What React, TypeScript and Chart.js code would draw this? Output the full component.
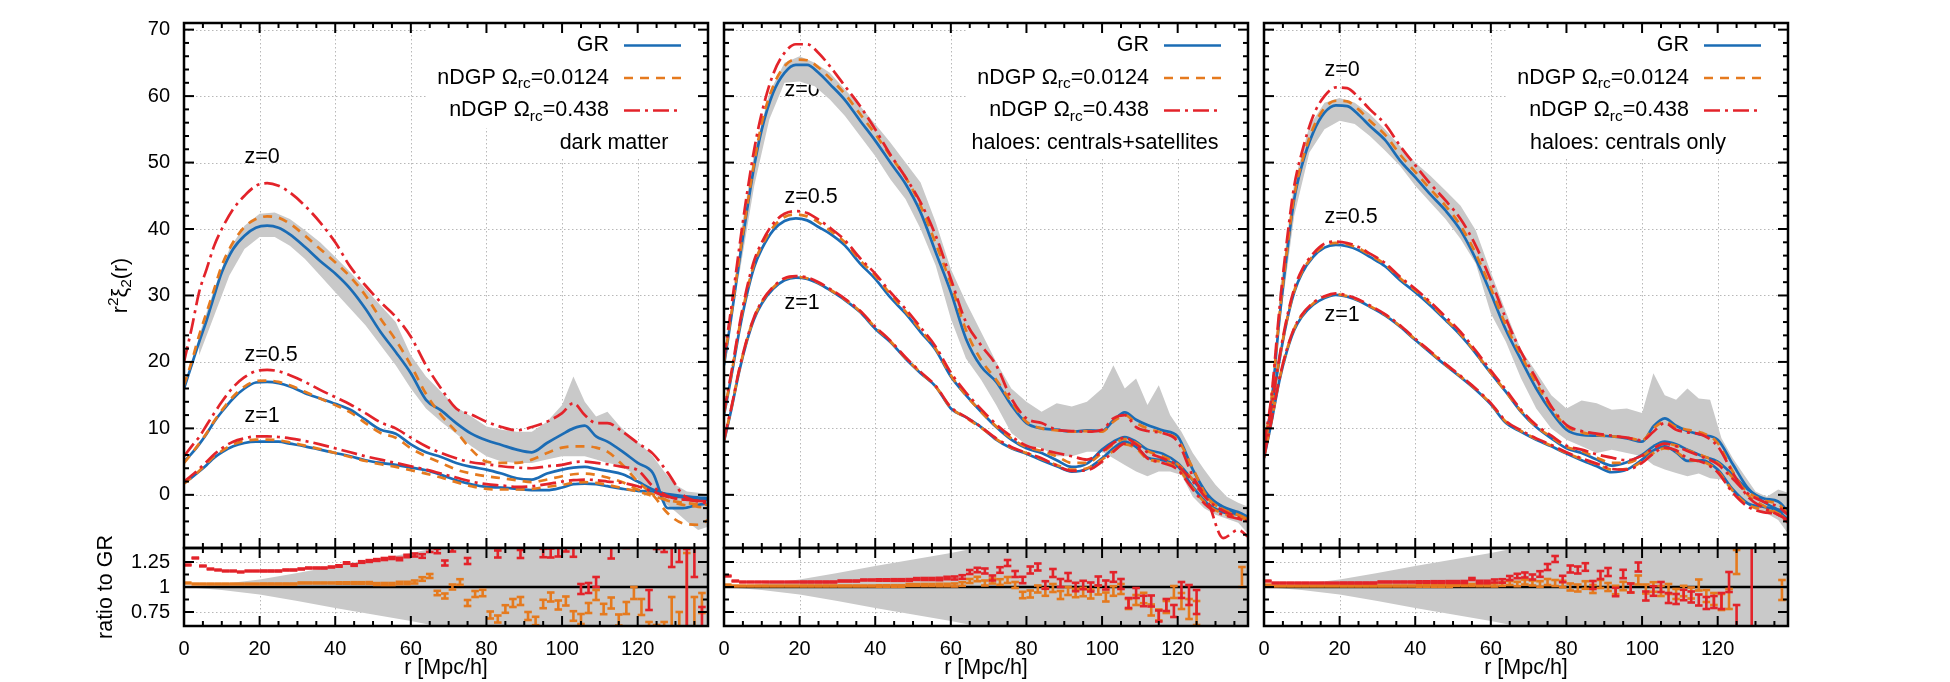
import { useEffect, useRef } from 'react';
import { Chart, registerables } from 'chart.js';

Chart.register(...registerables);

// separation grid of the correlation multipoles, r in Mpc/h
const R = [0, 2, 4, 6, 8, 10, 13, 16, 19, 22, 25, 28, 32, 36, 40, 44, 48, 52, 56, 60, 64, 68, 72, 76, 80, 84, 88, 92, 96, 100, 103, 106, 109, 112, 116, 120, 124, 128, 132, 136, 138.6];

// dark matter: r^2 xi_2 for GR, nDGP(0.0124), nDGP(0.438) at z = 0, 0.5, 1
const DM_Z0_GR = [16, 19.5, 23, 26.3, 30, 33.5, 37, 39, 40.2, 40.5, 40.2, 39.2, 37.3, 35.2, 33.3, 31, 28, 24.5, 21.5, 18.3, 14.3, 12.7, 10.8, 9.2, 8.2, 7.5, 6.8, 6.4, 7.8, 9.1, 10, 10.4, 8.8, 8, 6.5, 4.8, 3.3, -2, -2, -1.5, -1.3];
const DM_Z0_N1 = [16.5, 20, 24, 27.5, 31, 34.5, 38, 40.3, 41.5, 41.9, 41.7, 40.8, 39, 37, 35, 32.8, 30, 26.5, 23.3, 19.5, 15.2, 12, 9.5, 6.8, 5, 4.8, 4.8, 5.3, 6.3, 7.1, 7.3, 7.3, 7.1, 6.5, 4.5, 2, 0, -2.8, -4.3, -4.5, -3.8];
const DM_Z0_N2 = [20, 25, 30.5, 34, 37.5, 40, 43, 45, 46.5, 46.9, 46.5, 45.5, 43.5, 41, 38, 34.3, 31.5, 29, 26.8, 23.8, 19.5, 16, 13, 12.1, 11, 10.2, 9.7, 10.2, 11, 12.3, 13.8, 12, 10.8, 10.8, 9.5, 7.8, 6.2, 3.3, 0, -1, -1.3];
const DM_Z05_GR = [5, 6.2, 7.6, 9.2, 11, 12.5, 14.5, 16, 16.9, 17, 16.8, 16.3, 15.3, 14.5, 13.7, 12.8, 11.3, 9.8, 9.2, 7.6, 6.4, 5.7, 4.8, 4.2, 3.8, 3.2, 2.5, 2.3, 3.2, 3.8, 4.1, 4.2, 3.9, 3.6, 3.1, 2, 0.8, 0, -0.4, -0.7, -0.8];
const DM_Z05_N1 = [4.8, 6.2, 7.7, 9.3, 11.1, 12.7, 14.8, 16.3, 17.1, 17.2, 17, 16.5, 15.5, 14.5, 13.5, 12.4, 10.8, 9.3, 8.6, 7, 5.8, 4.8, 3.8, 3.2, 2.8, 2.5, 2.2, 1.9, 2.3, 2.8, 3.1, 3.2, 3, 2.6, 1.9, 0.8, 0.1, -0.9, -1.5, -1.8, -2];
const DM_Z05_N2 = [5.8, 7.3, 8.7, 10.5, 12.3, 14, 16.2, 17.7, 18.6, 18.8, 18.6, 18, 17, 15.8, 14.7, 13.6, 12.3, 10.9, 10, 8.6, 7.3, 6.3, 5.5, 4.9, 4.6, 4.3, 4.1, 4, 4.3, 4.5, 4.9, 5, 4.8, 4.6, 4.2, 3.7, 1.3, -0.2, -0.7, -0.9, -1];
const DM_Z1_GR = [1.8, 2.6, 3.5, 4.5, 5.6, 6.4, 7.3, 7.8, 8, 8, 8, 7.7, 7.3, 6.8, 6.3, 5.8, 5.2, 4.8, 4.5, 4.1, 3.7, 3, 2.2, 1.6, 1.2, 1.1, 0.9, 0.7, 0.7, 1.1, 1.6, 1.7, 1.6, 1.3, 0.9, 0.6, 0.5, 0.1, -0.2, -0.4, -0.5];
const DM_Z1_N1 = [1.7, 2.6, 3.6, 4.7, 5.8, 6.6, 7.6, 8.1, 8.3, 8.3, 8.2, 7.9, 7.4, 6.9, 6.3, 5.7, 5.1, 4.6, 4.2, 3.7, 3.2, 2.6, 1.9, 1.3, 0.9, 0.8, 0.8, 0.9, 1.2, 1.5, 1.8, 1.9, 1.8, 1.5, 1, 0.5, -0.2, -0.8, -1.2, -1.4, -1.5];
const DM_Z1_N2 = [2, 2.9, 3.9, 5, 6.1, 7, 8, 8.5, 8.8, 8.8, 8.7, 8.5, 8.1, 7.6, 7, 6.4, 5.8, 5.3, 4.8, 4.3, 3.8, 3.2, 2.6, 2, 1.6, 1.4, 1.2, 1.3, 1.6, 2, 2.2, 2.3, 2.2, 2, 1.8, 1.3, 0.5, -0.3, -0.7, -0.9, -1];

// haloes: centrals + satellites
const CS_Z0_GR = [19.5, 27, 35, 42.5, 49.5, 55, 60.5, 63.5, 64.7, 64.7, 63.5, 61.8, 59.4, 56.3, 53.3, 50, 46.8, 42.5, 36.5, 30.5, 23.5, 19.3, 17, 13.5, 10.8, 10, 9.8, 9.5, 9.7, 9.6, 11.2, 12.4, 11.3, 10.5, 9.7, 8.8, 3.8, 0, -1.9, -2.8, -3.5];
const CS_Z0_N1 = [20, 27.5, 35.5, 43, 50, 56, 61.5, 64.5, 65.5, 65.4, 64.3, 62.7, 60.3, 57.3, 54.3, 51, 47.8, 43.5, 37.8, 31.8, 24.8, 20.3, 17.3, 14, 11, 10, 9.7, 9.5, 9.6, 9.5, 11, 12, 10.8, 10, 9.3, 8.3, 4, -0.5, -2.2, -3.2, -3.6];
const CS_Z0_N2 = [20.5, 28.5, 37, 45, 52, 57.5, 63.3, 66.5, 67.8, 67.8, 66.5, 64.5, 61.5, 58.5, 55, 51.2, 47.8, 44, 39, 32.5, 26, 22.5, 19.5, 14.5, 11.5, 10.8, 9.8, 9.6, 9.5, 9.8, 11.5, 12, 10.2, 9.6, 9.3, 8, 2.8, -1, -6.5, -5.3, -6.3];
const CS_Z05_GR = [12, 18, 24.5, 30, 34.3, 37, 39.8, 41.2, 41.6, 41.3, 40.3, 39.3, 37.5, 34.8, 32.5, 29.7, 27.3, 24.5, 21.8, 17.8, 15, 12.5, 10.2, 8.3, 7, 6.3, 5.2, 4.2, 4.7, 6.8, 8, 8.7, 8, 6.8, 6.2, 4.8, 2.2, -0.3, -1.8, -2.6, -3.3];
const CS_Z05_N1 = [12.3, 18.3, 25, 30.5, 34.8, 37.5, 40.3, 41.8, 42.2, 41.9, 41, 39.8, 38, 35.3, 33, 30.2, 27.6, 24.8, 22, 18, 15, 12.5, 10.3, 8.5, 7.2, 6.6, 5.8, 4.8, 4.8, 6.3, 7.6, 8.4, 7.8, 6.6, 5.8, 4.6, 2.3, -0.6, -2.2, -3, -3.6];
const CS_Z05_N2 = [12.5, 18.6, 25.3, 31, 35.3, 38, 40.8, 42.3, 42.7, 42.4, 41.4, 40.2, 38.3, 35.6, 33.3, 30.5, 28, 25.2, 22.3, 18.4, 15.4, 12.9, 10.6, 8.8, 7.4, 6.8, 6.3, 5.8, 5.3, 6.5, 7.8, 8.6, 7.6, 6.4, 5.5, 4.4, 2, -0.8, -2.4, -3.4, -4];
const CS_Z1_GR = [8, 13, 18.5, 23, 26.5, 28.8, 31, 32.3, 32.7, 32.5, 31.8, 30.8, 29.3, 27.5, 25, 23, 20.5, 18.3, 16.3, 13, 11.7, 10.2, 8.3, 7, 6.2, 5.2, 4.3, 3.5, 3.9, 5.5, 7, 8, 7.2, 5.6, 5.2, 4.3, 1.2, -1.4, -2.6, -3, -3.5];
const CS_Z1_N1 = [8.2, 13.2, 18.7, 23.2, 26.7, 29, 31.2, 32.5, 32.8, 32.6, 31.9, 30.9, 29.4, 27.6, 25.2, 23.1, 20.6, 18.4, 16.3, 13.1, 11.6, 10.1, 8.4, 7.1, 6.3, 5.4, 4.5, 3.8, 4, 5.3, 6.6, 7.6, 7, 5.4, 5, 4, 1, -1.6, -2.8, -3.3, -3.8];
const CS_Z1_N2 = [8.3, 13.3, 18.8, 23.3, 26.8, 29.1, 31.3, 32.6, 32.9, 32.7, 32, 31, 29.5, 27.7, 25.3, 23.2, 20.7, 18.5, 16.4, 13.2, 11.7, 10.2, 8.5, 7.2, 6.3, 5.5, 4.4, 3.6, 3.7, 5, 6.5, 7.7, 7.3, 5.5, 4.8, 3.8, 0.8, -1.8, -3, -3.6, -4];

// haloes: centrals only
const CO_Z0_GR = [7, 14, 26, 36, 44.5, 49.5, 54.5, 57.5, 58.6, 58.5, 57.2, 55.5, 53.4, 50.3, 47.8, 45.2, 42.8, 39.8, 35.5, 30.3, 24.8, 20.3, 16, 12.5, 9.8, 9, 8.9, 8.8, 8.5, 8, 10.3, 11.5, 10.4, 9.6, 9, 8.3, 4.6, 1, -1, -2.2, -2.8];
const CO_Z0_N1 = [7.2, 14.5, 26.5, 36.5, 45, 50, 55.2, 58.2, 59.3, 59.2, 58, 56.3, 54.2, 51.2, 48.6, 46, 43.5, 40.5, 36.3, 31.1, 25.5, 21, 16.8, 13, 10.3, 9.4, 9, 8.8, 8.6, 8.2, 10, 11, 10.2, 9.8, 9.3, 7.8, 3.5, 0, -1.6, -2.8, -3.5];
const CO_Z0_N2 = [7.5, 15, 27.5, 38, 46.5, 51.5, 57, 60, 61.3, 61.2, 59.8, 58, 55.8, 52.5, 49.6, 46.8, 44.3, 41.5, 37.5, 32.3, 26.5, 21.5, 17.5, 13.3, 10.5, 9.6, 9.2, 8.9, 8.6, 8.2, 9.5, 10.8, 9.8, 9.4, 9, 7.3, 3.3, -0.3, -1.9, -3, -3.8];
const CO_Z05_GR = [6.5, 13, 20, 26, 30.5, 33.3, 35.8, 37.2, 37.6, 37.4, 36.8, 35.8, 34.4, 32.3, 30.5, 28.5, 26.3, 24, 21.3, 18.3, 15.5, 12.5, 10.2, 8.5, 7, 6.3, 5.3, 4.4, 4.9, 6, 7.3, 8, 7.6, 6.8, 5.8, 5, 3, 0.8, -0.5, -1, -2.5];
const CO_Z05_N1 = [6.6, 13.2, 20.2, 26.2, 30.7, 33.5, 36, 37.5, 37.9, 37.7, 37.1, 36.1, 34.7, 32.6, 30.8, 28.8, 26.5, 24.2, 21.4, 18.4, 15.5, 12.6, 10.3, 8.7, 7.2, 6.6, 5.6, 4.8, 4.8, 5.8, 7, 7.7, 7.4, 6.7, 5.9, 4.8, 2.6, 0.4, -0.8, -1.4, -2.8];
const CO_Z05_N2 = [6.8, 13.4, 20.5, 26.5, 31, 33.8, 36.3, 37.8, 38.1, 37.9, 37.3, 36.3, 34.9, 32.8, 31, 29, 26.8, 24.5, 21.7, 18.7, 15.8, 12.8, 10.5, 8.9, 7.4, 6.8, 6.1, 5.6, 5.2, 5.9, 7, 7.7, 7.3, 6.6, 5.7, 4.6, 2.4, 0.2, -1, -1.8, -3];
const CO_Z1_GR = [5.5, 11, 17, 21.5, 24.8, 26.8, 28.6, 29.6, 30.1, 29.8, 29.2, 28.3, 27, 25.3, 23.3, 21.4, 19.5, 17.7, 15.8, 13.6, 10.8, 9.5, 8.3, 7.3, 6.2, 5.2, 4.3, 3.4, 3.8, 5.3, 6.7, 7.3, 6.4, 5.1, 5.2, 3.8, 0.8, -1.3, -1.8, -2.4, -3.8];
const CO_Z1_N1 = [5.6, 11.2, 17.2, 21.7, 25, 27, 28.8, 29.8, 30.2, 29.9, 29.3, 28.4, 27.1, 25.4, 23.4, 21.5, 19.6, 17.8, 15.9, 13.7, 11, 9.6, 8.4, 7.4, 6.3, 5.4, 4.6, 3.8, 3.9, 5, 6.3, 7, 6.5, 5.3, 5, 3.6, 0.6, -1.5, -2.2, -2.8, -4];
const CO_Z1_N2 = [5.7, 11.3, 17.3, 21.8, 25.1, 27.1, 28.9, 29.9, 30.3, 30, 29.4, 28.5, 27.2, 25.5, 23.5, 21.6, 19.7, 17.9, 16, 13.8, 11.1, 9.7, 8.5, 7.5, 6.4, 5.5, 4.7, 3.9, 3.8, 4.8, 6.2, 7.1, 6.7, 5.5, 4.9, 3.4, 0.3, -1.8, -2.6, -3, -4.2];

// GR scatter band around the z = 0 measurement
const BAND_R = [4, 8, 12, 16, 20, 24, 28, 32, 36, 40, 44, 48, 52, 56, 60, 64, 68, 72, 76, 80, 84, 88, 92, 96, 100, 103, 106, 109, 112, 115, 118, 121, 124, 127, 130, 133, 136, 138.6];
const DM_BAND_HI = [24, 31, 37, 40.5, 42.3, 42.5, 41.5, 39.8, 38, 35.8, 33.5, 31, 28.5, 26, 21, 17.8, 15.5, 13.2, 11.8, 10.3, 9.8, 9.5, 9.5, 11, 13.5, 17.8, 14, 11.8, 12.5, 10.5, 8.8, 7.5, 5.8, 3.5, 1.5, 0.5, 0.3, 0];
const DM_BAND_LO = [21, 27, 33, 37, 38.8, 38.8, 37.5, 35.5, 33, 30.5, 28, 25.5, 22.5, 19.5, 16, 13, 11, 9.2, 7.3, 5.8, 5, 4.8, 4.8, 5.3, 5.8, 5.8, 5.8, 5.3, 4.8, 4.5, 3.5, 1.8, 0.5, -1.2, -2.5, -4, -5.3, -4.8];
const CS_BAND_HI = [38, 51.5, 60.5, 65, 66, 65, 63.5, 61, 58.5, 55.8, 53, 50, 47, 41, 34, 29, 24.5, 20, 16, 14, 12.5, 13.8, 13.3, 14, 16, 19.5, 16, 17.5, 13.5, 16.5, 12, 9.5, 6.3, 3.8, 1.5, -0.3, -1.2, -1.8];
const CS_BAND_LO = [33, 46.5, 56.5, 62, 62.2, 61.5, 59.5, 57, 54, 51, 47.5, 44.5, 40, 34.5, 26.5, 20.5, 17.3, 13.5, 9.3, 7.5, 7, 5.8, 5.8, 6.5, 6.5, 5.5, 4.5, 3.5, 2.8, 3.5, 3.5, 3, -0.3, -2, -3, -3.6, -4.2, -5.8];
const CO_BAND_HI = [30, 47, 55.5, 59, 59.7, 59, 57.3, 55, 52.5, 50, 48, 45.8, 43.5, 39.8, 33.5, 27.5, 21.8, 18.5, 15, 13, 14.2, 13.8, 12.8, 13, 12.3, 18.3, 15, 14.3, 16, 14.5, 14.3, 8.5, 5.5, 3, 0.5, -0.3, 0.8, 0.3];
const CO_BAND_LO = [25, 42, 51.5, 55, 56.3, 55.8, 54, 51.8, 49.5, 46.5, 44, 41.5, 38.5, 34.8, 27.3, 23, 17.5, 13, 10, 8.3, 7.3, 6.3, 6.8, 6.3, 5.8, 4.5, 3.8, 3.3, 2.8, 3.2, 2.5, 2.3, 0.3, -1.2, -2.3, -2.8, -3.8, -5.8];

// ratio to GR, bins of 2 Mpc/h
const RATIO_R = [1, 3, 5, 7, 9, 11, 13, 15, 17, 19, 21, 23, 25, 27, 29, 31, 33, 35, 37, 39, 41, 43, 45, 47, 49, 51, 53, 55, 57, 59, 61, 63, 65, 67, 69, 71, 73, 75, 77, 79, 81, 83, 85, 87, 89, 91, 93, 95, 97, 99, 101, 103, 105, 107, 109, 111, 113, 115, 117, 119, 121, 123, 125, 127, 129, 131, 133, 135, 137];
const RATIO_ERR = [
  0.004, 0.004, 0.004, 0.004, 0.004, 0.004, 0.004, 0.004, 0.004, 0.004,
  0.005, 0.005, 0.005, 0.005, 0.005, 0.005, 0.005, 0.005, 0.005, 0.005,
  0.007, 0.007, 0.008, 0.008, 0.009, 0.009, 0.01, 0.01, 0.012, 0.012,
  0.015, 0.018, 0.02, 0.022, 0.025, 0.025, 0.028, 0.03, 0.03, 0.032,
  0.035, 0.035, 0.038, 0.04, 0.04, 0.04, 0.042, 0.042, 0.045, 0.045,
  0.045, 0.048, 0.05, 0.05, 0.05, 0.052, 0.055, 0.055, 0.06, 0.06,
  0.08, 0.1, 0.12, 0.15, 0.4, 0.25, 0.4, 0.4, 0.1,
];
const DM_RATIO_N1 = [
  1.04, 1.03, 1.03, 1.03, 1.03, 1.03, 1.03, 1.03, 1.03, 1.03,
  1.03, 1.03, 1.03, 1.03, 1.03, 1.04, 1.04, 1.04, 1.04, 1.04,
  1.04, 1.04, 1.04, 1.04, 1.04, 1.03, 1.03, 1.03, 1.04, 1.04,
  1.05, 1.08, 1.11, 0.94, 0.91, 1.0, 1.05, 0.84, 0.93, 0.94,
  0.72, 0.68, 0.78, 0.84, 0.86, 0.71, 0.66, 0.83, 0.9, 0.82,
  0.86, 0.71, 0.68, 0.79, 0.92, 0.78, 0.84, 0.67, 0.79, 0.94,
  0.8, 0.55, 0.5, 0.5, 0.5, 0.5, 0.94, 0.5, 0.84,
];
const DM_RATIO_N2 = [
  1.22, 1.29, 1.21, 1.18, 1.17, 1.16, 1.16, 1.15, 1.16, 1.16,
  1.16, 1.16, 1.16, 1.17, 1.17, 1.18, 1.19, 1.19, 1.19, 1.2,
  1.21, 1.24, 1.22, 1.25, 1.26, 1.27, 1.28, 1.29, 1.28, 1.31,
  1.32, 1.31, 1.37, 1.36, 1.24, 1.38, 1.45, 1.26, 1.45, 1.5,
  1.45, 1.33, 1.5, 1.45, 1.33, 1.5, 1.45, 1.34, 1.34, 1.35,
  1.4, 1.35, 0.98, 0.99, 1.05, 1.45, 1.34, 1.5, 1.45, 1.5,
  1.6, 0.87, 1.5, 1.5, 1.6, 1.5, 0.98, 1.5, 0.7,
];
const CS_RATIO_N1 = [
  1.02, 1.01, 1.01, 1.01, 1.01, 1.01, 1.01, 1.01, 1.01, 1.01,
  1.01, 1.01, 1.01, 1.01, 1.01, 1.01, 1.01, 1.01, 1.01, 1.01,
  1.01, 1.01, 1.01, 1.01, 1.02, 1.02, 1.02, 1.02, 1.02, 1.02,
  1.02, 1.03, 1.06, 1.08, 1.04, 1.06, 1.05, 1.07, 1.02, 0.92,
  0.93, 0.98, 0.95, 0.99, 0.92, 0.96, 0.94, 0.95, 0.93, 0.97,
  0.9, 0.96, 0.98, 0.83, 0.87, 0.89, 0.77, 0.72, 0.8, 0.95,
  0.86, 0.78, 0.74, null, null, null, null, null, 1.1,
];
const CS_RATIO_N2 = [
  1.11, 1.06, 1.05, 1.05, 1.05, 1.05, 1.05, 1.05, 1.05, 1.05,
  1.05, 1.05, 1.05, 1.05, 1.05, 1.06, 1.06, 1.06, 1.07, 1.07,
  1.07, 1.07, 1.07, 1.07, 1.07, 1.08, 1.08, 1.08, 1.08, 1.09,
  1.09, 1.1, 1.15, 1.17, 1.16, 1.09, 1.17, 1.24, 1.13, 1.07,
  1.17, 1.2, 1.02, 1.14, 1.04, 1.1, 1.0, 1.02, 1.0, 1.06,
  1.02, 1.1, 1.03, 0.84, 0.94, 0.86, 0.86, 0.71, 0.82, 0.76,
  0.97, 0.92, 0.85, null, null, null, null, null, null,
];
const CO_RATIO_N1 = [
  1.02, 1.01, 1.01, 1.01, 1.01, 1.01, 1.01, 1.01, 1.01, 1.01,
  1.01, 1.01, 1.01, 1.01, 1.01, 1.01, 1.01, 1.01, 1.01, 1.01,
  1.01, 1.01, 1.01, 1.01, 1.01, 1.02, 1.02, 1.02, 1.02, 1.02,
  1.02, 1.03, 1.04, 1.03, 1.05, 1.04, 1.03, 1.05, 1.04, 1.03,
  1.0, 0.99, 1.02, 0.98, 1.03, 1.0, 0.97, 1.01, 0.99, 1.07,
  0.98, 1.0, 0.96, 0.98, 0.93, 0.96, 0.94, 1.02, 0.91, 0.88,
  0.85, 0.88, 1.25, null, null, null, null, null, 0.97,
];
const CO_RATIO_N2 = [
  1.06, 1.04, 1.04, 1.04, 1.04, 1.04, 1.04, 1.04, 1.04, 1.04,
  1.04, 1.04, 1.04, 1.04, 1.04, 1.05, 1.05, 1.05, 1.05, 1.05,
  1.05, 1.05, 1.05, 1.05, 1.05, 1.05, 1.05, 1.08, 1.05, 1.05,
  1.06, 1.06, 1.09, 1.11, 1.12, 1.1, 1.13, 1.2, 1.28, 1.08,
  1.18, 1.17, 1.2, 1.02, 1.12, 1.15, 0.95, 1.13, 0.99, 1.2,
  0.91, 0.96, 1.0, 0.89, 0.88, 0.92, 0.9, 0.87, 0.84, 0.85,
  0.86, 1.05, 0.7, null, 1.0, null, null, null, null,
];
// relative GR error envelope in the ratio panels
const RATIO_BAND_R = [0, 10, 20, 30, 40, 50, 60, 66, 72, 138.6];
const RATIO_BAND_HI = [1, 1.03, 1.075, 1.14, 1.21, 1.275, 1.34, 1.385, 1.5, 1.5];
const RATIO_BAND_LO = [1, 0.97, 0.925, 0.86, 0.79, 0.725, 0.66, 0.615, 0.5, 0.5];
const RATIO_UNITY_R = [0, 138.6];
const RATIO_UNITY = [1, 1];

// axes
const X_MAX = 138.6;
const Y_MIN = -8;
const Y_MAX = 71;
const RATIO_MIN = 0.61;
const RATIO_MAX = 1.39;
const X_TICKS = [0, 20, 40, 60, 80, 100, 120];
const Y_TICKS = [0, 10, 20, 30, 40, 50, 60, 70];
const RATIO_TICKS = [0.75, 1, 1.25];

const PANEL_TITLES = ['dark matter', 'haloes: centrals+satellites', 'haloes: centrals only'];
const Z_TEXT = ['z=0', 'z=0.5', 'z=1'];
const Z_LABEL_R = 16;
const Z_LABEL_V = [[50.8, 21.0, 11.9], [60.9, 44.8, 28.9], [63.9, 41.8, 27.1]];

const PANELS = [
  { gr: [DM_Z0_GR, DM_Z05_GR, DM_Z1_GR], n1: [DM_Z0_N1, DM_Z05_N1, DM_Z1_N1], n2: [DM_Z0_N2, DM_Z05_N2, DM_Z1_N2], hi: DM_BAND_HI, lo: DM_BAND_LO, rN1: DM_RATIO_N1, rN2: DM_RATIO_N2 },
  { gr: [CS_Z0_GR, CS_Z05_GR, CS_Z1_GR], n1: [CS_Z0_N1, CS_Z05_N1, CS_Z1_N1], n2: [CS_Z0_N2, CS_Z05_N2, CS_Z1_N2], hi: CS_BAND_HI, lo: CS_BAND_LO, rN1: CS_RATIO_N1, rN2: CS_RATIO_N2 },
  { gr: [CO_Z0_GR, CO_Z05_GR, CO_Z1_GR], n1: [CO_Z0_N1, CO_Z05_N1, CO_Z1_N1], n2: [CO_Z0_N2, CO_Z05_N2, CO_Z1_N2], hi: CO_BAND_HI, lo: CO_BAND_LO, rN1: CO_RATIO_N1, rN2: CO_RATIO_N2 },
];

// styling
const BLUE = '#1b6cb5';
const ORANGE = '#e57a1e';
const RED = '#e3232a';
const GREY = '#c9c9c9';
const FONT = "'Liberation Sans', Arial, Helvetica, sans-serif";
const TICK_SIZE = 20;
const TEXT_SIZE = 21.5;
const LINE_W = 2.7;
const DASH_N1 = [9, 7];
const DASH_N2 = [16, 5, 3, 5];

// page geometry
const PANEL_LEFT = [184, 724, 1264];
const PANEL_W = 524;
const MAIN_TOP = 23;
const MAIN_BOTTOM = 548;
const RATIO_BOTTOM = 626;
const Y_AXIS_W = 94;
const X_AXIS_H = 55;
const Y_TITLE_X = 121;
const TITLE_RIGHT_OFFSET = [94, 153, 160];

const LEGEND_ROWS = [
  { main: 'GR', sub: '', tail: '', color: BLUE, dash: [] as number[] },
  { main: 'nDGP \u03a9', sub: 'rc', tail: '=0.0124', color: ORANGE, dash: DASH_N1 },
  { main: 'nDGP \u03a9', sub: 'rc', tail: '=0.438', color: RED, dash: DASH_N2 },
];

const xy = (xs: number[], ys: (number | null)[]) =>
  xs.map((x, i) => ({ x, y: ys[i] })).filter((p) => p.y !== null);

function curve(ys: number[], color: string, dash: number[]) {
  return {
    type: 'line',
    data: xy(R, ys),
    borderColor: color,
    borderWidth: LINE_W,
    borderDash: dash,
    pointRadius: 0,
    fill: false,
    cubicInterpolationMode: 'monotone',
  };
}

function bandPair(xs: number[], hi: number[], lo: number[]) {
  return [
    { type: 'line', data: xy(xs, hi), borderColor: 'rgba(0,0,0,0)', borderWidth: 0, pointRadius: 0, fill: '+1', backgroundColor: GREY, tension: 0 },
    { type: 'line', data: xy(xs, lo), borderColor: 'rgba(0,0,0,0)', borderWidth: 0, pointRadius: 0, fill: false, tension: 0 },
  ];
}

function errorBars(vals: (number | null)[], color: string) {
  const stems: any[] = [];
  const caps: any[] = [];
  RATIO_R.forEach((r, i) => {
    const v = vals[i];
    if (v === null || v === undefined) return;
    const e = RATIO_ERR[i];
    stems.push({ x: r, y: [v - e, v + e] });
    caps.push({ x: r, y: v - e }, { x: r, y: v + e });
  });
  return [
    { type: 'scatter', data: caps, pointStyle: 'line', pointRadius: 3.8, pointBorderWidth: 2.6, pointBorderColor: color, pointBackgroundColor: color, borderColor: color, showLine: false },
    { type: 'bar', data: stems, backgroundColor: color, borderWidth: 0, grouped: false, maxBarThickness: 2.6 },
  ];
}

// draws text pieces side by side; each piece has a size factor and a vertical shift
function drawPieces(ctx: CanvasRenderingContext2D, pieces: [string, number, number][], startX: number, y: number) {
  let x = startX;
  pieces.forEach(([t, f, dy]) => {
    ctx.font = `${TEXT_SIZE * f}px ${FONT}`;
    ctx.fillText(t, x, y + dy);
    x += ctx.measureText(t).width;
  });
}

function piecesWidth(ctx: CanvasRenderingContext2D, pieces: [string, number, number][]) {
  let w = 0;
  pieces.forEach(([t, f]) => {
    ctx.font = `${TEXT_SIZE * f}px ${FONT}`;
    w += ctx.measureText(t).width;
  });
  return w;
}

function framePlugin(kind: 'main' | 'ratio', col: number) {
  return {
    id: 'frame' + kind + col,
    beforeDatasetsDraw(chart: any) {
      const { ctx, chartArea: ca, scales } = chart;
      const xs = scales.x;
      const ys = scales.y;
      ctx.save();
      ctx.beginPath();
      ctx.rect(ca.left, ca.top, ca.right - ca.left, ca.bottom - ca.top);
      ctx.clip();
      // dotted grid
      ctx.strokeStyle = '#b8b8b8';
      ctx.lineWidth = 1;
      ctx.setLineDash([1.5, 2.5]);
      X_TICKS.forEach((v) => {
        if (v <= 0) return;
        const px = Math.round(xs.getPixelForValue(v)) + 0.5;
        ctx.beginPath();
        ctx.moveTo(px, ca.top);
        ctx.lineTo(px, ca.bottom);
        ctx.stroke();
      });
      const gridY = kind === 'main' ? Y_TICKS : [0.75, 1.25];
      gridY.forEach((v) => {
        const py = Math.round(ys.getPixelForValue(v)) + 0.5;
        ctx.beginPath();
        ctx.moveTo(ca.left, py);
        ctx.lineTo(ca.right, py);
        ctx.stroke();
      });
      ctx.setLineDash([]);

      if (kind === 'main') {
        // key with opaque background
        const right = ca.right;
        ctx.fillStyle = '#fff';
        ctx.fillRect(right - 282, ca.top, 282, 105);
        const rowY = [ca.top + 22.5, ca.top + 55, ca.top + 87.5];
        ctx.textAlign = 'left';
        ctx.textBaseline = 'middle';
        LEGEND_ROWS.forEach((row, i) => {
          const pieces: [string, number, number][] = [[row.main, 1, 0]];
          if (row.sub) pieces.push([row.sub, 0.72, 6], [row.tail, 1, 0]);
          const w = piecesWidth(ctx, pieces);
          ctx.fillStyle = '#000';
          drawPieces(ctx, pieces, right - 99 - w, rowY[i]);
          ctx.strokeStyle = row.color;
          ctx.lineWidth = LINE_W;
          ctx.setLineDash(row.dash);
          ctx.beginPath();
          ctx.moveTo(right - 84, rowY[i]);
          ctx.lineTo(right - 27, rowY[i]);
          ctx.stroke();
          ctx.setLineDash([]);
        });
        // sample name
        const title = PANEL_TITLES[col];
        const cx = right - TITLE_RIGHT_OFFSET[col];
        const ty = ca.top + 119.7;
        ctx.font = `${TEXT_SIZE}px ${FONT}`;
        const tw = ctx.measureText(title).width;
        ctx.fillStyle = '#fff';
        ctx.fillRect(cx - tw / 2 - 5, ca.top + 104, tw + 10, 32);
        ctx.fillStyle = '#000';
        ctx.textAlign = 'center';
        ctx.fillText(title, cx, ty);
        // redshift labels
        ctx.textAlign = 'left';
        Z_TEXT.forEach((t, i) => {
          ctx.fillText(t, xs.getPixelForValue(Z_LABEL_R), ys.getPixelForValue(Z_LABEL_V[col][i]));
        });
      }
      ctx.restore();
    },
    afterDraw(chart: any) {
      const { ctx, chartArea: ca, scales } = chart;
      const xs = scales.x;
      const ys = scales.y;
      ctx.save();
      ctx.strokeStyle = '#000';
      ctx.lineWidth = 2;
      const seg = (x1: number, y1: number, x2: number, y2: number) => {
        ctx.beginPath();
        ctx.moveTo(x1, y1);
        ctx.lineTo(x2, y2);
        ctx.stroke();
      };
      for (let v = 5; v < X_MAX; v += 5) {
        const px = xs.getPixelForValue(v);
        const len = v % 20 === 0 ? 10 : 5;
        seg(px, ca.top, px, ca.top + len);
        seg(px, ca.bottom, px, ca.bottom - len);
      }
      const yTicks: [number, number][] = [];
      if (kind === 'main') {
        for (let v = -6; v < Y_MAX; v += 2) yTicks.push([v, v % 10 === 0 ? 10 : 5]);
      } else {
        RATIO_TICKS.forEach((v) => yTicks.push([v, 10]));
        yTicks.push([0.875, 5], [1.125, 5]);
      }
      yTicks.forEach(([v, len]) => {
        const py = ys.getPixelForValue(v);
        seg(ca.left, py, ca.left + len, py);
        seg(ca.right, py, ca.right - len, py);
      });
      ctx.lineWidth = 2.5;
      ctx.strokeRect(ca.left, ca.top, ca.right - ca.left, ca.bottom - ca.top);

      // y-axis title of the first column: r^2 xi_2(r)
      if (kind === 'main' && col === 0) {
        const pieces: [string, number, number][] = [['r', 1, 0], ['2', 0.72, -7], ['\u03be', 1, 0], ['2', 0.72, 6], ['(r)', 1, 0]];
        ctx.fillStyle = '#000';
        ctx.textAlign = 'left';
        ctx.textBaseline = 'middle';
        const w = piecesWidth(ctx, pieces);
        ctx.translate(ca.left - (PANEL_LEFT[0] - Y_TITLE_X), (ca.top + ca.bottom) / 2);
        ctx.rotate(-Math.PI / 2);
        drawPieces(ctx, pieces, -w / 2, 0);
      }
      ctx.restore();
    },
  };
}

const tickFont = { family: FONT, size: TICK_SIZE };
const textFont = { family: FONT, size: TEXT_SIZE };

function baseOptions(padding: any) {
  return {
    responsive: false,
    animation: false,
    events: [],
    layout: { padding },
    plugins: { legend: { display: false }, tooltip: { enabled: false } },
  };
}

function mainConfig(col: number) {
  const p = PANELS[col];
  const datasets: any[] = [];
  [0, 1, 2].forEach((k) => datasets.push(curve(p.n2[k], RED, DASH_N2)));
  [0, 1, 2].forEach((k) => datasets.push(curve(p.n1[k], ORANGE, DASH_N1)));
  [0, 1, 2].forEach((k) => datasets.push(curve(p.gr[k], BLUE, [])));
  datasets.push(...bandPair(BAND_R, p.hi, p.lo));
  const first = col === 0;
  const y: any = first
    ? {
        type: 'linear', min: Y_MIN, max: Y_MAX, position: 'left',
        afterFit: (s: any) => { s.width = Y_AXIS_W; },
        afterBuildTicks: (s: any) => { s.ticks = Y_TICKS.map((value) => ({ value })); },
        ticks: { padding: 14, color: '#000', font: tickFont, callback: (v: any) => String(v) },
        grid: { display: false, drawTicks: false },
        border: { display: false },
      }
    : { type: 'linear', min: Y_MIN, max: Y_MAX, display: false };
  return {
    type: 'line',
    data: { datasets },
    options: {
      ...baseOptions({ left: first ? 0 : 30, right: 30, top: 43, bottom: 30 }),
      scales: {
        x: { type: 'linear', min: 0, max: X_MAX, display: false, offset: false },
        y,
      },
    },
    plugins: [framePlugin('main', col)],
  };
}

function ratioConfig(col: number) {
  const p = PANELS[col];
  const datasets: any[] = [
    ...errorBars(p.rN2, RED),
    ...errorBars(p.rN1, ORANGE),
    { type: 'line', data: xy(RATIO_UNITY_R, RATIO_UNITY), borderColor: '#000', borderWidth: 2.7, pointRadius: 0, fill: false },
    ...bandPair(RATIO_BAND_R, RATIO_BAND_HI, RATIO_BAND_LO),
  ];
  const first = col === 0;
  const y: any = first
    ? {
        type: 'linear', min: RATIO_MIN, max: RATIO_MAX, position: 'left', beginAtZero: false,
        afterFit: (s: any) => { s.width = Y_AXIS_W; },
        afterBuildTicks: (s: any) => { s.ticks = RATIO_TICKS.map((value) => ({ value })); },
        ticks: { padding: 14, color: '#000', font: tickFont, callback: (v: any) => String(v) },
        grid: { display: false, drawTicks: false },
        border: { display: false },
        title: { display: true, text: 'ratio to GR', color: '#000', font: textFont, padding: { top: 3, bottom: 0 } },
      }
    : { type: 'linear', min: RATIO_MIN, max: RATIO_MAX, display: false, beginAtZero: false };
  return {
    type: 'line',
    data: { datasets },
    options: {
      ...baseOptions({ left: first ? 0 : 30, right: 30, top: 30, bottom: 0 }),
      scales: {
        x: {
          type: 'linear', min: 0, max: X_MAX, position: 'bottom', offset: false,
          afterFit: (s: any) => { s.height = X_AXIS_H; },
          afterBuildTicks: (s: any) => { s.ticks = X_TICKS.map((value) => ({ value })); },
          ticks: { padding: 11, color: '#000', font: tickFont, maxRotation: 0, autoSkip: false, callback: (v: any) => String(v) },
          grid: { display: false, drawTicks: false },
          border: { display: false },
          title: { display: true, text: 'r [Mpc/h]', color: '#000', font: textFont, padding: { top: 0, bottom: 0 } },
        },
        y,
      },
    },
    plugins: [framePlugin('ratio', col)],
  };
}

type Box = { left: number; top: number; w: number; h: number };

function boxes(): Box[] {
  const out: Box[] = [];
  [0, 1, 2].forEach((c) => {
    const left = c === 0 ? PANEL_LEFT[c] - Y_AXIS_W : PANEL_LEFT[c] - 30;
    const w = (c === 0 ? Y_AXIS_W : 30) + PANEL_W + 30;
    out.push({ left, top: MAIN_TOP - 43, w, h: 43 + (MAIN_BOTTOM - MAIN_TOP) + 30 });
    out.push({ left, top: MAIN_BOTTOM - 30, w, h: 30 + (RATIO_BOTTOM - MAIN_BOTTOM) + X_AXIS_H });
  });
  return out;
}

export default function App() {
  const refs = useRef<(HTMLCanvasElement | null)[]>([]);
  const geo = boxes();

  useEffect(() => {
    const charts: Chart[] = [];
    [0, 1, 2].forEach((c) => {
      const m = refs.current[2 * c];
      const r = refs.current[2 * c + 1];
      if (m) charts.push(new Chart(m, mainConfig(c) as any));
      if (r) charts.push(new Chart(r, ratioConfig(c) as any));
    });
    return () => charts.forEach((ch) => ch.destroy());
  }, []);

  return (
    <div style={{ position: 'absolute', left: 0, top: 0, width: 1950, height: 682, background: '#fff', overflow: 'hidden' }}>
      {geo.map((g, i) => (
        <canvas
          key={i}
          ref={(el) => { refs.current[i] = el; }}
          width={g.w}
          height={g.h}
          style={{ position: 'absolute', left: g.left, top: g.top, width: g.w, height: g.h }}
        />
      ))}
    </div>
  );
}
